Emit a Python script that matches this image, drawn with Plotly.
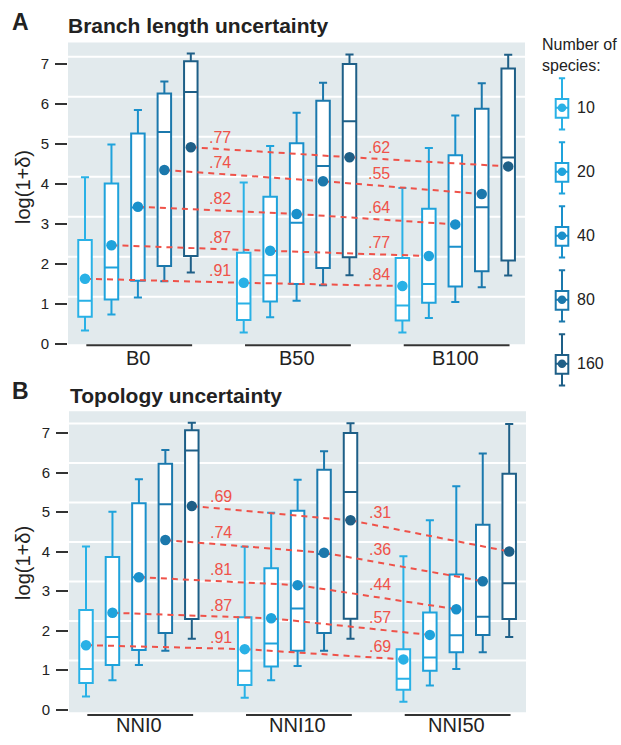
import plotly.graph_objects as go

# ---------------- data ----------------
SPECIES = ["10", "20", "40", "80", "160"]
GROUPS_A = ["B0", "B50", "B100"]
GROUPS_B = ["NNI0", "NNI10", "NNI50"]

# each row = one group, columns = species 10, 20, 40, 80, 160
A_UPPER = [[4.16, 4.98, 5.84, 6.55, 7.25], [4.03, 4.94, 5.77, 6.52, 7.23], [3.89, 4.89, 5.70, 6.51, 7.22]]
A_Q3 = [[2.59, 4.00, 5.25, 6.25, 7.06], [2.27, 3.67, 5.01, 6.07, 6.99], [2.14, 3.37, 4.71, 5.87, 6.88]]
A_MED = [[1.07, 1.90, 3.40, 5.29, 6.29], [1.00, 1.71, 3.02, 4.44, 5.56], [0.95, 1.49, 2.42, 3.41, 4.65]]
A_Q1 = [[0.67, 1.10, 1.57, 1.94, 2.19], [0.59, 1.05, 1.49, 1.89, 2.16], [0.58, 1.02, 1.43, 1.81, 2.08]]
A_LOWER = [[0.33, 0.73, 1.15, 1.56, 1.78], [0.28, 0.66, 1.07, 1.46, 1.71], [0.28, 0.64, 1.04, 1.41, 1.70]]
A_MEAN = [[1.62, 2.46, 3.42, 4.34, 4.91], [1.52, 2.32, 3.24, 4.06, 4.66], [1.44, 2.19, 2.98, 3.74, 4.43]]
A_R = [[".91", ".87", ".82", ".74", ".77"], [".84", ".77", ".64", ".55", ".62"]]

B_UPPER = [[4.13, 5.01, 5.83, 6.57, 7.26], [4.12, 4.98, 5.82, 6.54, 7.25], [3.88, 4.79, 5.65, 6.48, 7.23]]
B_Q3 = [[2.52, 3.86, 5.22, 6.22, 7.07], [2.34, 3.58, 5.03, 6.07, 7.00], [1.53, 2.46, 3.42, 4.68, 5.97]]
B_MED = [[1.03, 1.84, 3.35, 5.20, 6.56], [0.98, 1.67, 2.56, 3.94, 5.51], [0.78, 1.32, 1.88, 2.35, 3.20]]
B_Q1 = [[0.67, 1.13, 1.51, 1.94, 2.29], [0.62, 1.09, 1.49, 1.94, 2.30], [0.50, 0.98, 1.45, 1.89, 2.29]]
B_LOWER = [[0.33, 0.74, 1.13, 1.49, 1.79], [0.30, 0.74, 1.10, 1.49, 1.79], [0.20, 0.61, 1.03, 1.45, 1.84]]
B_MEAN = [[1.63, 2.45, 3.35, 4.29, 5.15], [1.53, 2.31, 3.15, 3.97, 4.79], [1.27, 1.89, 2.54, 3.25, 4.00]]
B_R = [[".91", ".87", ".81", ".74", ".69"], [".69", ".57", ".44", ".36", ".31"]]

Y_TICKS = [0, 1, 2, 3, 4, 5, 6, 7]

# ---------------- style ----------------
W, H = 621, 745
COLORS = ["#29b1e6", "#1fa3dc", "#1a90cb", "#1b78ac", "#1e5f87"]
RED = "#ef5249"
BG = "#e2eaed"
DARK = "#222222"
FONT = "Liberation Sans, Arial, sans-serif"
GROUP_STEP = 6
BOX_W = 0.51
LABEL_DX = 4.63


def px_x(p):
    return p / W


def px_y(p):
    return 1 - p / H


def pos(g, s):
    return g * GROUP_STEP + s


fig = go.Figure()

panels = [
    dict(xa="x", ya="y", groups=GROUPS_A, up=A_UPPER, q3=A_Q3, med=A_MED, q1=A_Q1, lo=A_LOWER,
         mean=A_MEAN, r=A_R, grid_off=0.17, line_y=349, lab_y=362),
    dict(xa="x2", ya="y2", groups=GROUPS_B, up=B_UPPER, q3=B_Q3, med=B_MED, q1=B_Q1, lo=B_LOWER,
         mean=B_MEAN, r=B_R, grid_off=0.24, line_y=722.7, lab_y=733),
]

for p in panels:
    xa, ya = p["xa"], p["ya"]
    ng = len(p["groups"])
    # panel background
    fig.add_shape(type="rect", xref=xa + " domain", yref=ya + " domain", x0=0, x1=1, y0=0, y1=1,
                  fillcolor=BG, line=dict(width=0), layer="below")
    # boxes
    for s, sp in enumerate(SPECIES):
        xs = [pos(g, s) for g in range(ng)]
        fig.add_trace(go.Box(
            x=xs,
            q1=[p["q1"][g][s] for g in range(ng)],
            median=[p["med"][g][s] for g in range(ng)],
            q3=[p["q3"][g][s] for g in range(ng)],
            lowerfence=[p["lo"][g][s] for g in range(ng)],
            upperfence=[p["up"][g][s] for g in range(ng)],
            width=BOX_W, fillcolor="white",
            line=dict(color=COLORS[s], width=2),
            whiskerwidth=0.6, boxpoints=False,
            showlegend=False, hoverinfo="skip",
            xaxis=xa, yaxis=ya,
        ))
    # red dashed connectors + correlation labels
    for g in range(ng - 1):
        for s in range(len(SPECIES)):
            x0, x1 = pos(g, s), pos(g + 1, s)
            m0, m1 = p["mean"][g][s], p["mean"][g + 1][s]
            fig.add_trace(go.Scatter(
                x=[x0, x1], y=[m0, m1], mode="lines",
                line=dict(color=RED, width=2, dash="6px,5px"),
                showlegend=False, hoverinfo="skip", xaxis=xa, yaxis=ya,
            ))
            lx = g * GROUP_STEP + LABEL_DX
            ly = m0 + (m1 - m0) * (lx - x0) / (x1 - x0)
            fig.add_annotation(
                x=lx, y=ly, xref=xa, yref=ya, text=p["r"][g][s], showarrow=False,
                xanchor="left", yanchor="middle", yshift=11,
                font=dict(size=16, color=RED, family=FONT),
            )
    # mean dots
    for s in range(len(SPECIES)):
        fig.add_trace(go.Scatter(
            x=[pos(g, s) for g in range(ng)],
            y=[p["mean"][g][s] for g in range(ng)],
            mode="markers", marker=dict(size=10.5, color=COLORS[s]),
            showlegend=False, hoverinfo="skip", xaxis=xa, yaxis=ya,
        ))
    # gridlines (slightly offset, as in the reference)
    for k in Y_TICKS[1:]:
        fig.add_shape(type="line", xref=xa + " domain", x0=0, x1=1, yref=ya,
                      y0=k + p["grid_off"], y1=k + p["grid_off"],
                      line=dict(color="white", width=2), layer="below")
    # group underlines and labels
    for g, name in enumerate(p["groups"]):
        fig.add_shape(type="line", xref=xa, x0=pos(g, 0) + 0.05, x1=pos(g, 4) + 0.05,
                      yref="paper", y0=px_y(p["line_y"]), y1=px_y(p["line_y"]),
                      line=dict(color="#333333", width=2))
        fig.add_annotation(x=pos(g, 2), y=px_y(p["lab_y"]), xref=xa, yref="paper",
                           text=name, showarrow=False, xanchor="center", yanchor="middle",
                           font=dict(size=20, color=DARK, family=FONT))

# ---------------- legend (custom glyphs) ----------------
LEG_X = 562
LEG_Y0 = 109
LEG_DY = 64.7
for i, sp in enumerate(SPECIES):
    c = -(LEG_Y0 + i * LEG_DY)
    fig.add_trace(go.Box(
        x=[LEG_X], q1=[c - 10], median=[c], q3=[c + 9],
        lowerfence=[c - 22], upperfence=[c + 30],
        width=12.6, fillcolor="white", line=dict(color=COLORS[i], width=2),
        whiskerwidth=0.5, boxpoints=False, showlegend=False, hoverinfo="skip",
        xaxis="x3", yaxis="y3",
    ))
    fig.add_trace(go.Scatter(
        x=[LEG_X], y=[c], mode="markers", marker=dict(size=8.5, color=COLORS[i]),
        showlegend=False, hoverinfo="skip", xaxis="x3", yaxis="y3",
    ))
    fig.add_annotation(x=575, y=c, xref="x3", yref="y3", text=sp, showarrow=False,
                       xanchor="left", yanchor="middle",
                       font=dict(size=16, color=DARK, family=FONT))

fig.add_annotation(x=px_x(540), y=px_y(34), xref="paper", yref="paper",
                   text="Number of<br>species:", showarrow=False, align="left",
                   xanchor="left", yanchor="top", font=dict(size=16, color=DARK, family=FONT))

# ---------------- titles ----------------
fig.add_annotation(x=px_x(10), y=px_y(22.5), xref="paper", yref="paper", text="<b>A</b>",
                   showarrow=False, xanchor="left", yanchor="middle",
                   font=dict(size=23, color=DARK, family=FONT))
fig.add_annotation(x=px_x(66), y=px_y(26), xref="paper", yref="paper",
                   text="<b>Branch length uncertainty</b>",
                   showarrow=False, xanchor="left", yanchor="middle",
                   font=dict(size=21, color=DARK, family=FONT))
fig.add_annotation(x=px_x(10), y=px_y(395.5), xref="paper", yref="paper", text="<b>B</b>",
                   showarrow=False, xanchor="left", yanchor="middle",
                   font=dict(size=23, color=DARK, family=FONT))
fig.add_annotation(x=px_x(68), y=px_y(400), xref="paper", yref="paper",
                   text="<b>Topology uncertainty</b>",
                   showarrow=False, xanchor="left", yanchor="middle",
                   font=dict(size=21, color=DARK, family=FONT))
for yc in (189, 569):
    fig.add_annotation(x=px_x(23), y=px_y(yc), xref="paper", yref="paper",
                       text="log(1+δ)", textangle=-90, showarrow=False,
                       xanchor="center", yanchor="middle",
                       font=dict(size=20, color=DARK, family=FONT))

# ---------------- axes ----------------
yaxis_common = dict(tickvals=Y_TICKS, ticks="outside", ticklen=12, tickwidth=1.5,
                    tickcolor="#333333", tickfont=dict(size=15, color=DARK, family=FONT),
                    showgrid=False, zeroline=False, showline=False, ticklabelstandoff=3)
xaxis_common = dict(showgrid=False, zeroline=False, showline=False, showticklabels=False,
                    ticks="")

fig.update_layout(
    width=W, height=H,
    margin=dict(l=0, r=0, t=0, b=0),
    paper_bgcolor="white",
    plot_bgcolor="white",
    boxmode="overlay",
    showlegend=False,
    font=dict(family=FONT, color=DARK),
    xaxis=dict(domain=[px_x(68), px_x(525)], range=[-0.643, 16.635], anchor="y", **xaxis_common),
    yaxis=dict(domain=[px_y(348), px_y(43)], range=[-0.017, 7.527], anchor="x", **yaxis_common),
    xaxis2=dict(domain=[px_x(69), px_x(526)], range=[-0.643, 16.635], anchor="y2", **xaxis_common),
    yaxis2=dict(domain=[px_y(720), px_y(415.7)], range=[-0.068, 7.551], anchor="x2", **yaxis_common),
    xaxis3=dict(domain=[px_x(540), px_x(600)], range=[540, 600], anchor="y3", visible=False),
    yaxis3=dict(domain=[px_y(400), px_y(70)], range=[-400, -70], anchor="x3", visible=False),
)

fig.write_html("out.html")
